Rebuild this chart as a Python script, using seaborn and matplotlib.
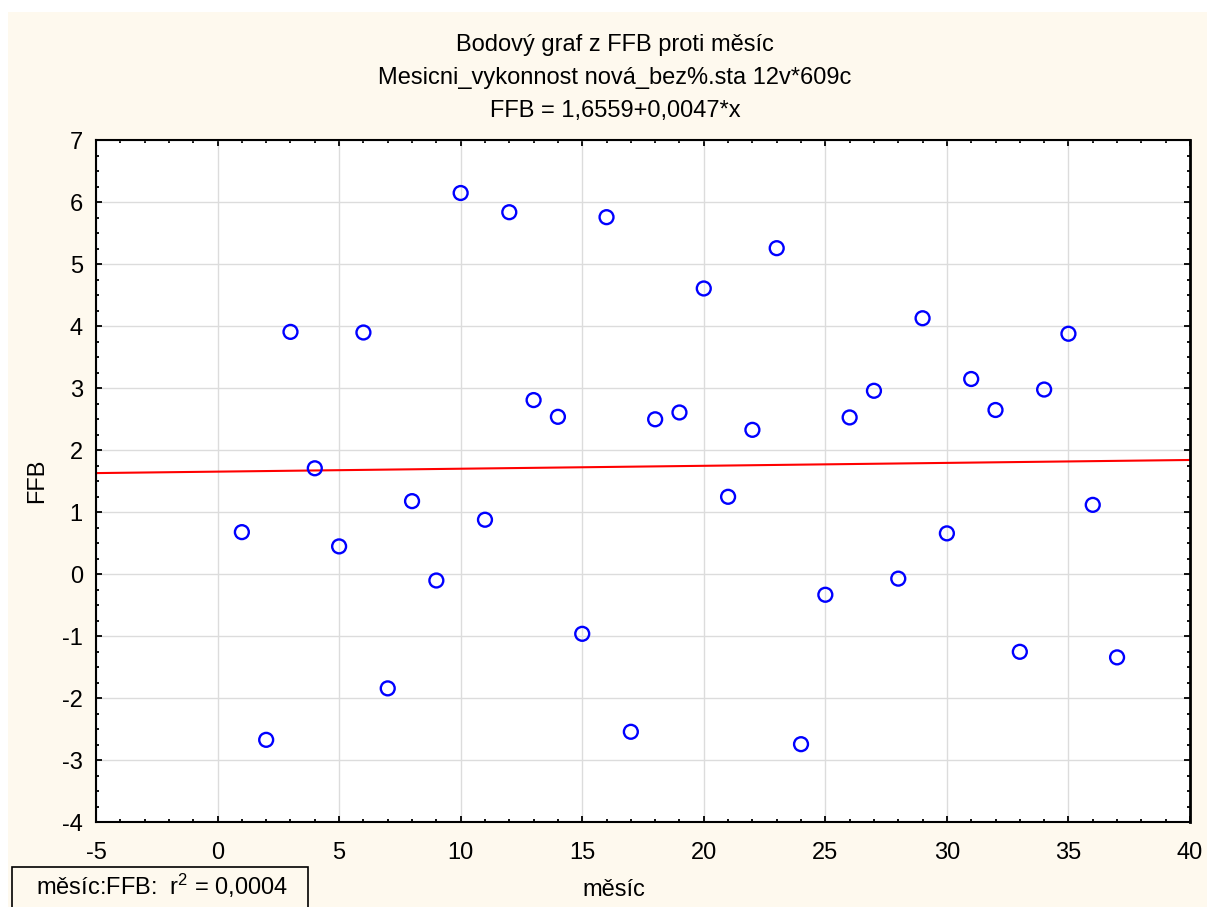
import numpy as np
import pandas as pd
import matplotlib
matplotlib.use("Agg")
import matplotlib.pyplot as plt
import seaborn as sns
from matplotlib.ticker import MultipleLocator
from matplotlib.patches import Rectangle

# ---- data ----
mesic = list(range(1, 38))
ffb = [0.68, -2.67, 3.91, 1.71, 0.45, 3.90, -1.84, 1.18, -0.10, 6.15,
       0.88, 5.84, 2.81, 2.54, -0.96, 5.76, -2.54, 2.50, 2.61, 4.61,
       1.25, 2.33, 5.26, -2.74, -0.33, 2.53, 2.96, -0.07, 4.13, 0.66,
       3.15, 2.65, -1.25, 2.98, 3.88, 1.12, -1.34]
intercept = 1.6559
slope = 0.0047
x_range = [-5, 40]
y_range = [-4, 7]
x_ticks = list(range(-5, 41, 5))
y_ticks = list(range(-4, 8))
title_lines = ["Bodový graf z FFB proti měsíc",
               "Mesicni_vykonnost nová_bez%.sta 12v*609c",
               "FFB = 1,6559+0,0047*x"]
x_label = "měsíc"
y_label = "FFB"
r2_text = r"měsíc:FFB:  r$^{\mathregular{2}}$ = 0,0004"

sns.set_theme(style="white")
plt.rcParams["font.family"] = ["Liberation Sans", "DejaVu Sans"]
plt.rcParams["mathtext.fontset"] = "custom"
plt.rcParams["mathtext.rm"] = "Liberation Sans"
plt.rcParams["mathtext.it"] = "Liberation Sans:italic"
plt.rcParams["axes.unicode_minus"] = False

FS = 17
W, H = 1207, 907
fig = plt.figure(figsize=(W / 100, H / 100), dpi=100, facecolor="white")
cream = "#FEF9EE"
fig.patches.append(Rectangle((8 / W, 0), 1 - 8 / W, (H - 12) / H,
                             transform=fig.transFigure, facecolor=cream,
                             edgecolor="none", zorder=-10))

ax = fig.add_axes([96 / W, (H - 822.3) / H, 1094 / W, 682 / H])
ax.set_facecolor("white")

df = pd.DataFrame({"mesic": mesic, "FFB": ffb})
line_df = pd.DataFrame({"x": x_range,
                        "y": [intercept + slope * v for v in x_range]})

ax.grid(True, which="major", color="#DCDCDC", linewidth=1.0, zorder=0)
ax.set_axisbelow(True)

sns.lineplot(data=line_df, x="x", y="y", ax=ax, color="#FF0000",
             linewidth=1.5, zorder=2)
sns.scatterplot(data=df, x="mesic", y="FFB", ax=ax, marker="o", s=100,
                facecolor="none", edgecolor="#0000FF", linewidth=1.7,
                zorder=3)

ax.set_xlim(*x_range)
ax.set_ylim(*y_range)
ax.set_xticks(x_ticks)
ax.set_yticks(y_ticks)
ax.xaxis.set_minor_locator(MultipleLocator(1))
ax.yaxis.set_minor_locator(MultipleLocator(0.25))
ax.tick_params(which="both", direction="in", top=True, right=True,
               bottom=True, left=True, color="black", labelsize=FS,
               labelcolor="black")
ax.tick_params(which="major", length=4, width=1.3)
ax.tick_params(which="minor", length=2.5, width=1.3)
ax.tick_params(axis="x", which="major", pad=14)
ax.tick_params(axis="y", which="major", pad=9.5)
ax.set_xlabel("")
ax.set_ylabel("")
for name, sp in ax.spines.items():
    sp.set_visible(True)
    sp.set_color("black")
    sp.set_linewidth(1.5)
ax.spines["right"].set_linewidth(2.0)

cx = 615 / W
baselines = [51, 84, 117]
for t, b in zip(title_lines, baselines):
    fig.text(cx, 1 - b / H, t, ha="center", va="baseline",
             fontsize=FS, color="black")

fig.text(614 / W, 1 - 896 / H, x_label, ha="center", va="baseline",
         fontsize=FS, color="black")
fig.text(37 / W, 1 - 481 / H, y_label, ha="center", va="center",
         rotation=90, fontsize=FS, color="black")

fig.patches.append(Rectangle((12 / W, -0.02), 296 / W, (H - 867) / H + 0.02,
                             transform=fig.transFigure, facecolor=cream,
                             edgecolor="black", linewidth=1.2, zorder=5))
fig.text(162 / W, 1 - 895 / H, r2_text, ha="center", va="baseline",
         fontsize=FS, color="black", zorder=6)

fig.savefig("out.png", dpi=100, facecolor="white")
